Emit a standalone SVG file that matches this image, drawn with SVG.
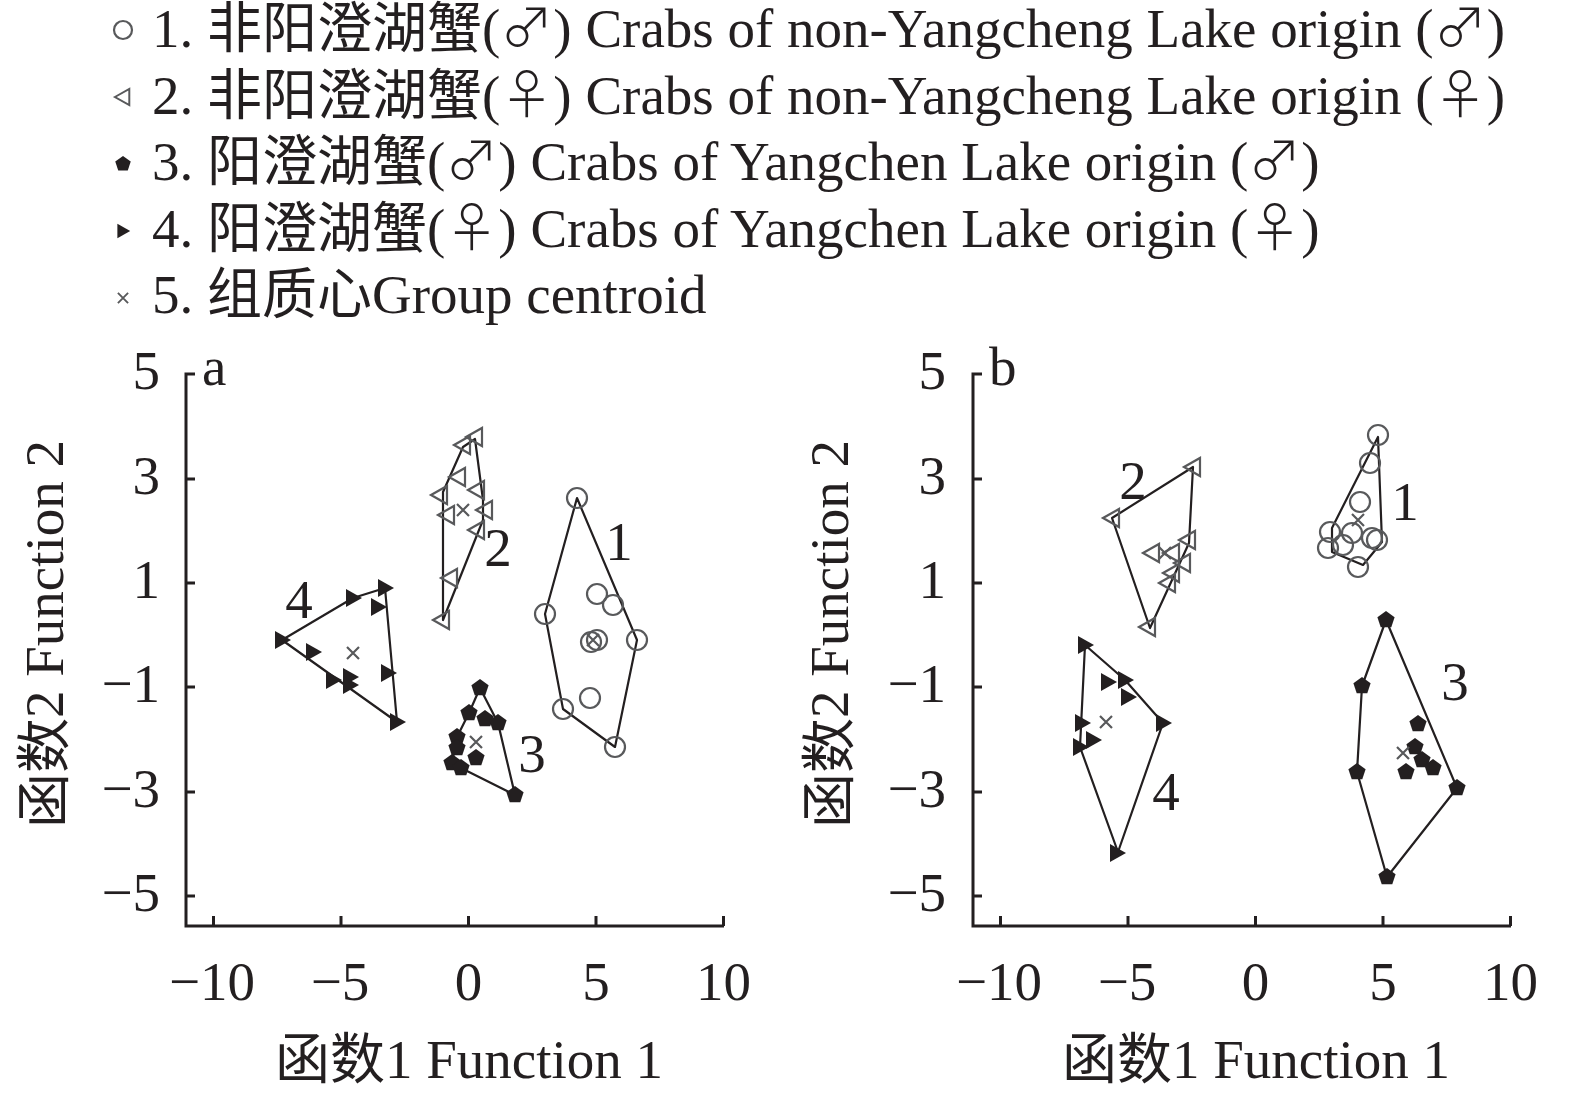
<svg xmlns="http://www.w3.org/2000/svg" xmlns:xlink="http://www.w3.org/1999/xlink" width="1575" height="1100" viewBox="0 0 1575 1100">
<style>
text{font-family:"Liberation Serif","Noto Sans CJK SC",serif;font-size:55px;fill:#231f20}
.sym{font-family:"DejaVu Sans","Noto Sans CJK SC",sans-serif;font-size:53px;font-weight:200}
.ax{stroke:#231f20;stroke-width:3;fill:none}
.hull{stroke:#231f20;stroke-width:2.2;fill:none;stroke-linejoin:round}
.op{fill:none;stroke:#58595b;stroke-width:2.2}
.fl{fill:#231f20;stroke:none}
.cx{fill:none;stroke:#58595b;stroke-width:2.2}
.mid{text-anchor:middle}
.end{text-anchor:end}
</style>
<defs>
<circle id="mc" r="10" class="op"/>
<path id="mt" d="M-9,0 L7,-9 L7,9 Z" class="op"/>
<path id="mp" d="M0,-9 L8.6,-2.8 L5.3,7.3 L-5.3,7.3 L-8.6,-2.8 Z" class="fl"/>
<path id="mr" d="M-7,-9 L-7,9 L9,0 Z" class="fl"/>
<path id="mx" d="M-6,-6 L6,6 M-6,6 L6,-6" class="cx"/>
</defs>
<rect width="1575" height="1100" fill="#fff"/>

<g id="legend">
<circle cx="123" cy="30" r="9" class="op"/>
<use href="#mt" transform="translate(123,97) scale(0.9)"/>
<use href="#mp" transform="translate(123,164) scale(0.9)"/>
<use href="#mr" transform="translate(123,231) scale(0.8)"/>
<use href="#mx" transform="translate(123,298) scale(0.85)"/>
<text x="152" y="47">1. 非阳澄湖蟹(<tspan class="sym">♂</tspan>) Crabs of non-Yangcheng Lake origin (<tspan class="sym">♂</tspan>)</text>
<text x="152" y="114">2. 非阳澄湖蟹(<tspan class="sym">♀</tspan>) Crabs of non-Yangcheng Lake origin (<tspan class="sym">♀</tspan>)</text>
<text x="152" y="180">3. 阳澄湖蟹(<tspan class="sym">♂</tspan>) Crabs of Yangchen Lake origin (<tspan class="sym">♂</tspan>)</text>
<text x="152" y="247">4. 阳澄湖蟹(<tspan class="sym">♀</tspan>) Crabs of Yangchen Lake origin (<tspan class="sym">♀</tspan>)</text>
<text x="152" y="313">5. 组质心Group centroid</text>
</g>

<g id="axes-a">
<path class="ax" d="M195,374 H186 V926 H724 M186,479 H195 M186,583 H195 M186,687 H195 M186,792 H195 M186,896 H195 M213.5,926 V916 M341,926 V916 M468.5,926 V916 M596,926 V916 M723.5,926 V916"/>
<text x="160" y="389" class="end">5</text>
<text x="160" y="494" class="end">3</text>
<text x="160" y="598" class="end">1</text>
<text x="160" y="702" class="end">−1</text>
<text x="160" y="807" class="end">−3</text>
<text x="160" y="911" class="end">−5</text>
<text x="212" y="1000" class="mid">−10</text>
<text x="340" y="1000" class="mid">−5</text>
<text x="468.5" y="1000" class="mid">0</text>
<text x="596" y="1000" class="mid">5</text>
<text x="723.5" y="1000" class="mid">10</text>
<text x="469" y="1078" class="mid">函数1 Function 1</text>
<text transform="translate(63,634) rotate(-90)" class="mid">函数2 Function 2</text>
<text x="202" y="385">a</text>
</g>

<g id="axes-b">
<path class="ax" d="M982,374 H973 V926 H1511 M973,479 H982 M973,583 H982 M973,687 H982 M973,792 H982 M973,896 H982 M1000.5,926 V916 M1128,926 V916 M1255.5,926 V916 M1383,926 V916 M1510.5,926 V916"/>
<text x="946" y="389" class="end">5</text>
<text x="946" y="494" class="end">3</text>
<text x="946" y="598" class="end">1</text>
<text x="946" y="702" class="end">−1</text>
<text x="946" y="807" class="end">−3</text>
<text x="946" y="911" class="end">−5</text>
<text x="999" y="1000" class="mid">−10</text>
<text x="1127" y="1000" class="mid">−5</text>
<text x="1255.5" y="1000" class="mid">0</text>
<text x="1383" y="1000" class="mid">5</text>
<text x="1510.5" y="1000" class="mid">10</text>
<text x="1256" y="1078" class="mid">函数1 Function 1</text>
<text transform="translate(848,634) rotate(-90)" class="mid">函数2 Function 2</text>
<text x="989" y="385">b</text>
</g>

<g id="hulls">
<polygon class="hull" points="577,498 637,640 615,747 563,709 545,614"/>
<polygon class="hull" points="443,620 443,492 463,447 475,439 483,500 483,520"/>
<polygon class="hull" points="282,640 353,598 385,588 397,722"/>
<polygon class="hull" points="480,688 498,723 515,795 461,768 452,763 457,737 469,713"/>
<polygon class="hull" points="1112,518 1193,467 1189,543 1150,628"/>
<polygon class="hull" points="1378,437 1382,542 1363,565 1332,552 1332,528"/>
<polygon class="hull" points="1085,645 1125,680 1163,723 1118,852 1080,747"/>
<polygon class="hull" points="1386,620 1457,788 1387,877 1357,772 1362,686"/>
</g>

<g id="group-a1">
<use href="#mc" x="577" y="498"/><use href="#mc" x="545" y="614"/><use href="#mc" x="597" y="594"/><use href="#mc" x="613" y="605"/><use href="#mc" x="637" y="640"/><use href="#mc" x="597" y="640"/><use href="#mc" x="591" y="642"/><use href="#mc" x="590" y="698"/><use href="#mc" x="563" y="709"/><use href="#mc" x="615" y="747"/>
<use href="#mx" x="593" y="640"/>
<text x="619" y="560" class="mid">1</text>
</g>
<g id="group-a2">
<use href="#mt" x="475" y="437"/><use href="#mt" x="463" y="445"/><use href="#mt" x="458" y="477"/><use href="#mt" x="440" y="495"/><use href="#mt" x="477" y="490"/><use href="#mt" x="447" y="515"/><use href="#mt" x="485" y="510"/><use href="#mt" x="477" y="530"/><use href="#mt" x="450" y="578"/><use href="#mt" x="442" y="620"/>
<use href="#mx" x="463" y="510"/>
<text x="498" y="566" class="mid">2</text>
</g>
<g id="group-a3">
<use href="#mp" x="480" y="688"/><use href="#mp" x="469" y="713"/><use href="#mp" x="485" y="719"/><use href="#mp" x="498" y="723"/><use href="#mp" x="457" y="737"/><use href="#mp" x="457" y="748"/><use href="#mp" x="476" y="758"/><use href="#mp" x="452" y="763"/><use href="#mp" x="461" y="768"/><use href="#mp" x="515" y="795"/>
<use href="#mx" x="476" y="742"/>
<text x="532" y="772" class="mid">3</text>
</g>
<g id="group-a4">
<use href="#mr" x="282" y="640"/><use href="#mr" x="313" y="652"/><use href="#mr" x="333" y="680"/><use href="#mr" x="350" y="677"/><use href="#mr" x="350" y="685"/><use href="#mr" x="353" y="598"/><use href="#mr" x="378" y="607"/><use href="#mr" x="385" y="588"/><use href="#mr" x="388" y="673"/><use href="#mr" x="397" y="722"/>
<use href="#mx" x="353" y="653"/>
<text x="299" y="618" class="mid">4</text>
</g>

<g id="group-b1">
<use href="#mc" x="1378" y="435"/><use href="#mc" x="1370" y="463"/><use href="#mc" x="1360" y="502"/><use href="#mc" x="1330" y="532"/><use href="#mc" x="1328" y="548"/><use href="#mc" x="1343" y="545"/><use href="#mc" x="1352" y="533"/><use href="#mc" x="1372" y="538"/><use href="#mc" x="1377" y="540"/><use href="#mc" x="1358" y="567"/>
<use href="#mx" x="1358" y="520"/>
<text x="1405" y="520" class="mid">1</text>
</g>
<g id="group-b2">
<use href="#mt" x="1112" y="518"/><use href="#mt" x="1193" y="467"/><use href="#mt" x="1152" y="553"/><use href="#mt" x="1172" y="553"/><use href="#mt" x="1188" y="540"/><use href="#mt" x="1183" y="563"/><use href="#mt" x="1172" y="573"/><use href="#mt" x="1168" y="583"/><use href="#mt" x="1148" y="627"/>
<use href="#mx" x="1165" y="553"/>
<text x="1133" y="499" class="mid">2</text>
</g>
<g id="group-b3">
<use href="#mp" x="1386" y="620"/><use href="#mp" x="1362" y="686"/><use href="#mp" x="1357" y="772"/><use href="#mp" x="1387" y="877"/><use href="#mp" x="1457" y="788"/><use href="#mp" x="1418" y="724"/><use href="#mp" x="1415" y="747"/><use href="#mp" x="1422" y="760"/><use href="#mp" x="1433" y="768"/><use href="#mp" x="1406" y="772"/>
<use href="#mx" x="1403" y="753"/>
<text x="1455" y="700" class="mid">3</text>
</g>
<g id="group-b4">
<use href="#mr" x="1085" y="645"/><use href="#mr" x="1108" y="682"/><use href="#mr" x="1125" y="680"/><use href="#mr" x="1128" y="697"/><use href="#mr" x="1163" y="723"/><use href="#mr" x="1082" y="723"/><use href="#mr" x="1093" y="740"/><use href="#mr" x="1080" y="747"/><use href="#mr" x="1117" y="853"/>
<use href="#mx" x="1106" y="722"/>
<text x="1166" y="810" class="mid">4</text>
</g>
</svg>
